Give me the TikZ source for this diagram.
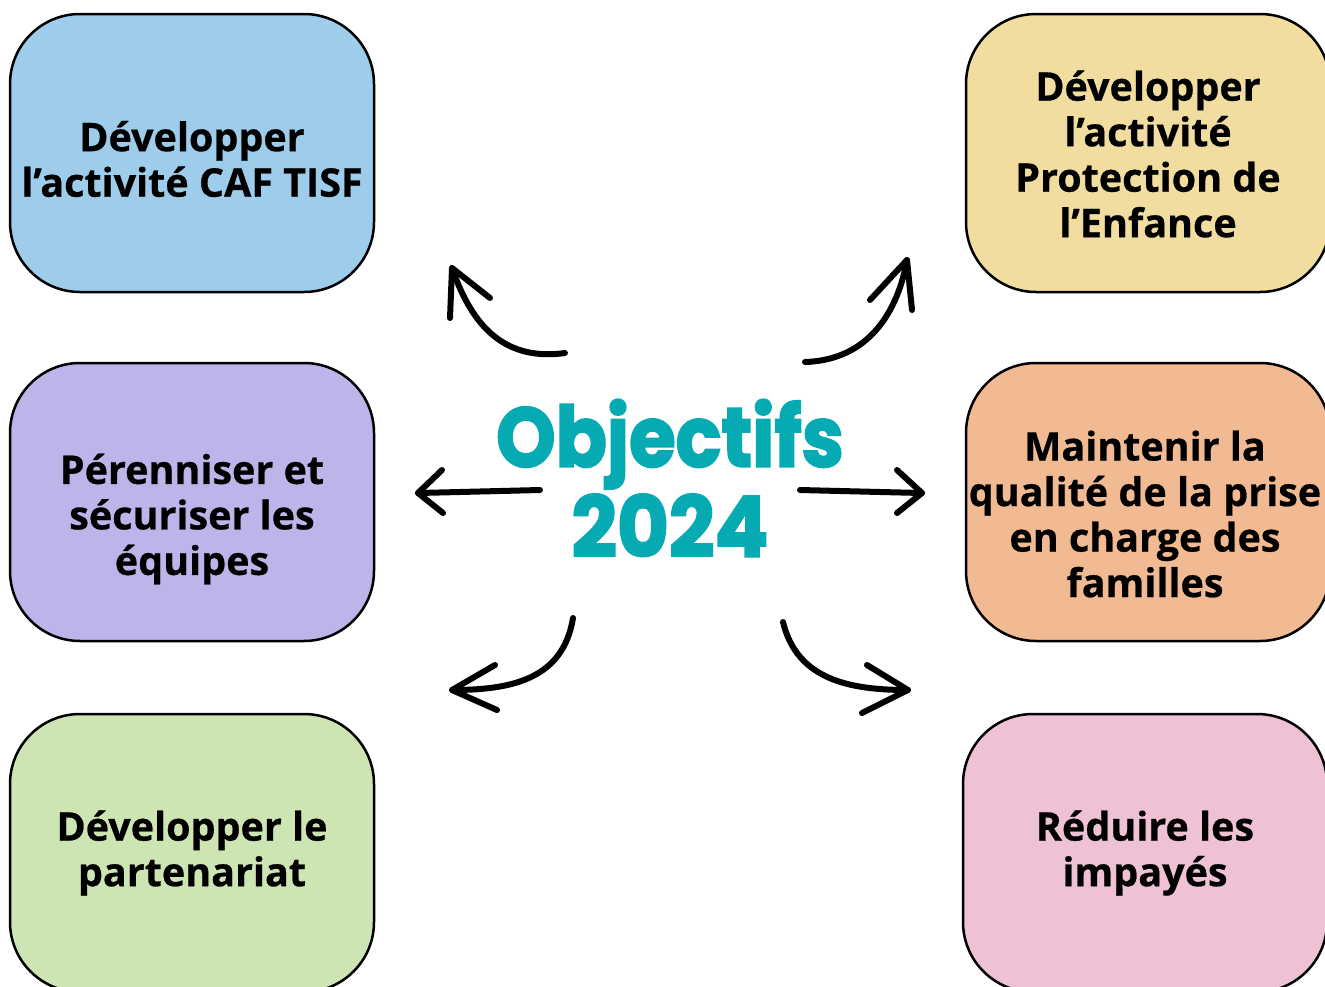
\documentclass[tikz,border=0pt]{standalone}
\usepackage{fontspec}
\setmainfont{Open Sans}[BoldFeatures={FakeBold=0.6}]
\newfontfamily\titlefont{Poppins}[BoldFeatures={FakeBold=2.5}]
\definecolor{cblue}{HTML}{9DCDEA}
\definecolor{cyellow}{HTML}{F1DD9F}
\definecolor{cpurple}{HTML}{BBB5E9}
\definecolor{corange}{HTML}{F2BA93}
\definecolor{cgreen}{HTML}{CDE4B3}
\definecolor{cpink}{HTML}{EFC1D4}
\definecolor{cteal}{HTML}{05AAB2}
\begin{document}
\begin{tikzpicture}[x=1pt,y=-1pt,
  goalbox/.style={draw=black, line width=2.5pt, rounded corners=70pt,
    minimum width=364pt, minimum height=278pt, inner sep=0pt},
  goaltext/.style={align=center, inner sep=0pt,
    font=\bfseries\fontsize{39.5}{45.5}\selectfont},
  sketch/.style={line width=6pt, line cap=round, line join=round, draw=black}]
\useasboundingbox (0,0) rectangle (1325,986);
\node[goalbox, fill=cblue]   (tl) at (192,153) {};
\node[goalbox, fill=cyellow] (tr) at (1148,153) {};
\node[goalbox, fill=cpurple] (ml) at (192,502) {};
\node[goalbox, fill=corange] (mr) at (1148,502) {};
\node[goalbox, fill=cgreen]  (bl) at (192,853) {};
\node[goalbox, fill=cpink]   (br) at (1145,853) {};
\node[goaltext] (tlt) at (192,159) {Développer\\l’activité CAF TISF};
\node[goaltext] (trt) at (1148,154) {Développer\\l’activité\\Protection de\\l’Enfance};
\node[goaltext] (mlt) at (192,519) {Pérenniser et\\sécuriser les\\équipes};
\node[goaltext] (mrt) at (1145,514) {Maintenir la\\qualité de la prise\\en charge des\\familles};
\node[goaltext] (blt) at (192,853) {Développer le\\partenariat};
\node[goaltext] (brt) at (1145,853) {Réduire les\\impayés};
\node[align=center, text=cteal, font=\titlefont\bfseries\fontsize{84}{90}\selectfont] (title) at (670,478)
  {\scalebox{0.9}[1]{Objectifs}\\\scalebox{0.95}[1]{2024}};
% named end points of the sketched arrows
\coordinate (a1s) at (565,353); \coordinate (a1e) at (452,268);
\coordinate (a2s) at (805,362); \coordinate (a2e) at (907,260);
\coordinate (a3s) at (540,490); \coordinate (a3e) at (418,493);
\coordinate (a4s) at (800,490); \coordinate (a4e) at (922,493);
\coordinate (a5s) at (573,618); \coordinate (a5e) at (452,690);
\coordinate (a6s) at (783,622); \coordinate (a6e) at (908,690);
% top-left
\draw[sketch] (a1s) .. controls (500,362) and (470,320) .. (a1e);
\draw[sketch] (450,318) -- (a1e) -- (490,298);
% top-right
\draw[sketch] (a2s) .. controls (870,360) and (898,310) .. (a2e);
\draw[sketch] (870,300) -- (a2e) -- (912,310);
% left
\draw[sketch] (a3s) .. controls (500,491) and (460,492) .. (a3e);
\draw[sketch] (442,470) -- (a3e) -- (443,513);
% right
\draw[sketch] (a4s) .. controls (840,491) and (880,492) .. (a4e);
\draw[sketch] (897,470) -- (a4e) -- (897,513);
% bottom-left
\draw[sketch] (a5s) .. controls (563,680) and (510,690) .. (a5e);
\draw[sketch] (495,665) -- (a5e) -- (497,710);
% bottom-right
\draw[sketch] (a6s) .. controls (797,680) and (850,690) .. (a6e);
\draw[sketch] (867,665) -- (a6e) -- (862,713);
\end{tikzpicture}
\end{document}
